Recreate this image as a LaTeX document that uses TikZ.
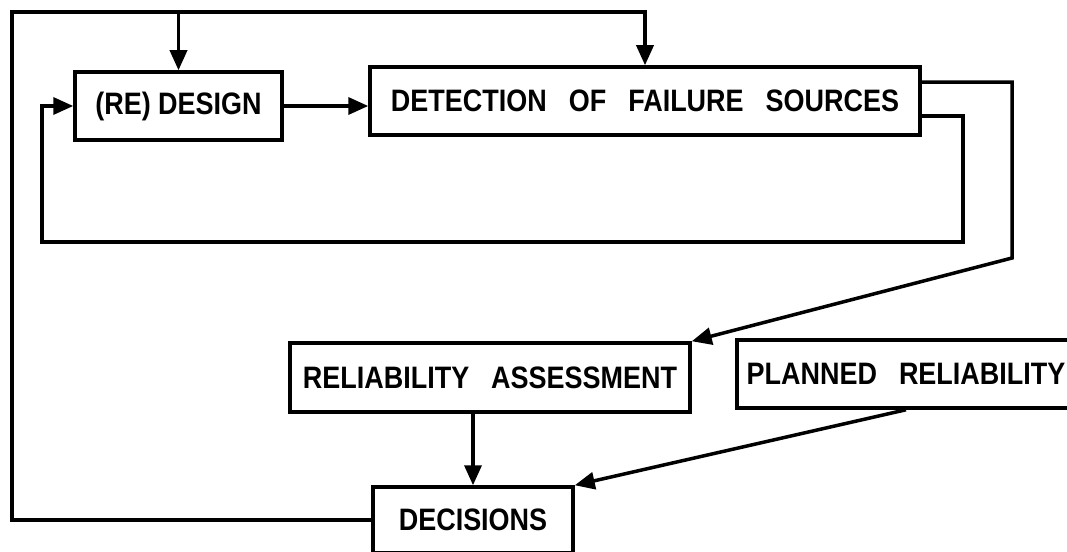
\documentclass[tikz,border=0pt]{standalone}
\usepackage{fontspec}
\setmainfont{Liberation Sans}[FakeStretch=0.87]
\usetikzlibrary{arrows.meta}
\newcommand\wgap{\hspace{22pt}}
\begin{document}
\begin{tikzpicture}[x=1pt,y=-1pt,
  box/.style={draw, line width=3.5pt, inner sep=0pt, font=\fontsize{31}{34}\selectfont\bfseries},
  conn/.style={line width=3.5pt},
  arr/.style={conn, -{Triangle[length=20pt,width=17pt]}}]
\useasboundingbox (0,0) rectangle (1067,551);
\node[box, minimum width=207pt, minimum height=68pt] (design) at (178.5,106) {(RE) DESIGN};
\node[box, minimum width=550pt, minimum height=68pt] (detect) at (645,101) {DETECTION\wgap OF\wgap FAILURE\wgap SOURCES};
\node[box, minimum width=400pt, minimum height=69pt] (assess) at (490,377.5) {RELIABILITY\wgap ASSESSMENT};
\node[box, minimum width=338pt, minimum height=68pt] (planned) at (906,374) {PLANNED\wgap RELIABILITY};
\node[box, minimum width=200pt, minimum height=66pt] (decisions) at (473,520) {DECISIONS};
\coordinate (tl) at (12,12);
\coordinate (ir) at (963,242);
\coordinate (il) at (42,242);
\coordinate (orc) at (1012,258);
% design -> detection
\draw[arr] (design.east) -- (detect.west |- design.east);
% outer loop from decisions
\draw[arr] (decisions.west) -| (tl) -| (detect.north);
\draw[arr] (tl -| design.north) -- (design.north);
% inner feedback loop
\draw[arr] ([yshift=-15pt]detect.east) -| (ir) -- (il) |- (design.west);
% detection -> assessment
\draw[arr] ([yshift=19pt]detect.east) -| (orc) -- (assess.north east);
% assessment -> decisions
\draw[arr] (assess.south -| decisions.north) -- (decisions.north);
% planned -> decisions
\draw[arr] (planned.south) -- (decisions.north east);
\end{tikzpicture}
\end{document}
